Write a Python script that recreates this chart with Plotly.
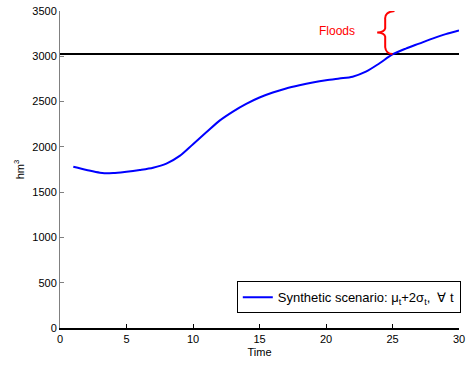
import plotly.graph_objects as go

time = list(range(1, 31))
scenario = [1780, 1745, 1715, 1710, 1725, 1745, 1770, 1815, 1900, 2030,
            2160, 2290, 2390, 2475, 2545, 2600, 2645, 2680, 2710, 2735,
            2755, 2775, 2830, 2920, 3020, 3085, 3140, 3195, 3245, 3285]
threshold = 3025
x_range = [0, 30]
y_range = [0, 3500]
x_ticks = [0, 5, 10, 15, 20, 25, 30]
y_ticks = [0, 500, 1000, 1500, 2000, 2500, 3000, 3500]
legend_label = "Synthetic scenario: μ<sub>t</sub>+2σ<sub>t</sub>,  ∀ t"
annot_text = "Floods"

font = "Liberation Sans, Arial, sans-serif"

fig = go.Figure()
fig.add_trace(go.Scatter(x=x_range, y=[threshold, threshold], mode="lines",
                         line=dict(color="black", width=2), showlegend=False,
                         hoverinfo="skip"))
fig.add_trace(go.Scatter(x=time, y=scenario, mode="lines",
                         line=dict(color="#0000FF", width=2, shape="spline", smoothing=0.8),
                         name=legend_label))

# curly brace marking the flood zone (between threshold and top of axis)
top = y_range[1]
mid = (top + threshold) / 2
bx = 24.45
path = (f"M 25.15,{top} Q {bx-0.05},{top-10} {bx},{top-90} "
        f"L {bx},{mid+45} Q {bx-0.05},{mid+5} 23.85,{mid} "
        f"Q {bx-0.05},{mid-5} {bx},{mid-45} "
        f"L {bx},{threshold+75} Q {bx+0.05},{threshold+5} 25.0,{threshold}")
fig.add_shape(type="path", path=path, xref="x", yref="y",
              line=dict(color="#FF0000", width=2))
fig.add_annotation(x=20.85, y=3275, text=annot_text, showarrow=False,
                   font=dict(color="#FF0000", size=12, family=font))

fig.update_layout(
    width=467, height=365,
    margin=dict(l=60, r=7, t=11, b=37),
    paper_bgcolor="white", plot_bgcolor="white",
    font=dict(family=font, size=11, color="black"),
    showlegend=True,
    legend=dict(x=1.002, y=0.046, xanchor="right", yanchor="bottom",
                bgcolor="white", bordercolor="black", borderwidth=1,
                font=dict(size=13, family=font)),
)
fig.update_xaxes(range=x_range, tickvals=x_ticks, showgrid=False, zeroline=False,
                 showline=True, linecolor="black", linewidth=2, automargin=False,
                 ticks="inside", ticklen=4, tickcolor="black",
                 title=dict(text="Time", standoff=4, font=dict(size=11)))
fig.update_yaxes(range=y_range, tickvals=y_ticks, showgrid=False, zeroline=False,
                 showline=True, linecolor="#808080", linewidth=1, automargin=False,
                 ticks="inside", ticklen=4, tickcolor="#808080",
                 title=dict(text="hm<sup>3</sup>", standoff=5, font=dict(size=11)))

fig.write_html("out.html", config={"displayModeBar": False},
               post_script="document.body.style.margin='0px';document.body.style.overflow='hidden';")
